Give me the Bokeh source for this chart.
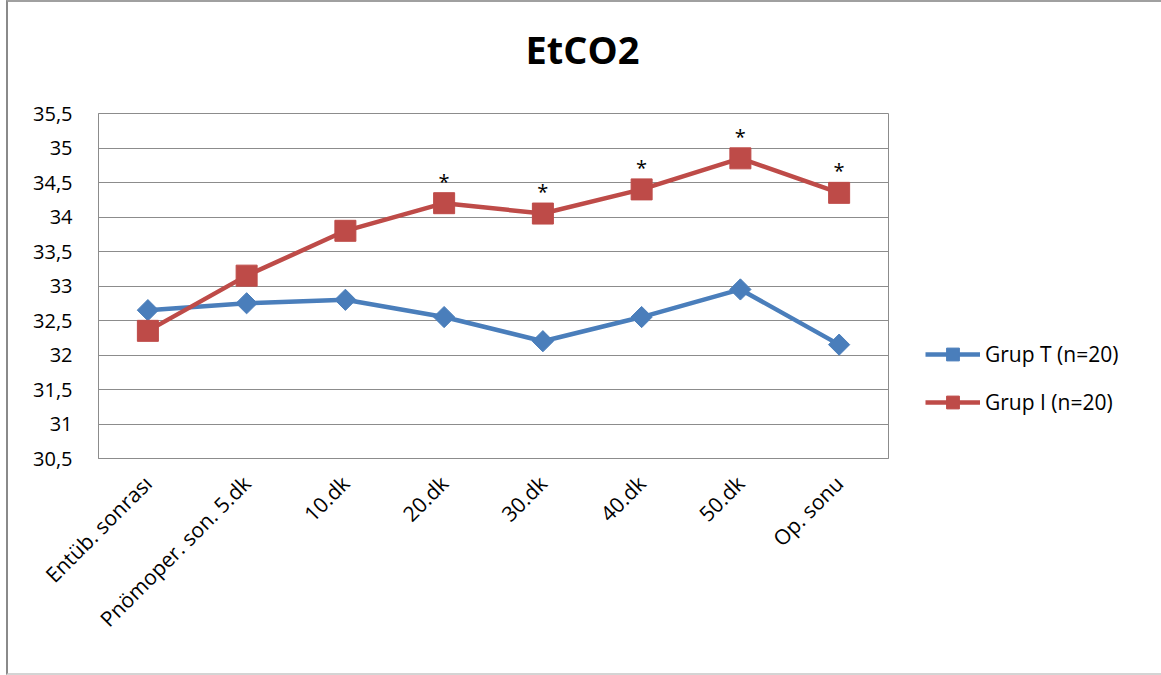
import math

from bokeh.core.properties import value
from bokeh.embed import file_html
from bokeh.models import (CustomJSTickFormatter, FactorRange, FixedTicker,
                          Legend, LegendItem, Range1d, Title)
from bokeh.plotting import figure
from bokeh.resources import INLINE

# Measurement points and EtCO2 means per group
categories = ["Entüb. sonrası", "Pnömoper. son. 5.dk", "10.dk", "20.dk",
              "30.dk", "40.dk", "50.dk", "Op. sonu"]
grup_t = [32.65, 32.75, 32.80, 32.55, 32.20, 32.55, 32.95, 32.15]
grup_i = [32.35, 33.15, 33.80, 34.20, 34.05, 34.40, 34.85, 34.35]
significance = ["", "", "", "*", "*", "*", "*", "*"]

y_ticks = [30.5, 31, 31.5, 32, 32.5, 33, 33.5, 34, 34.5, 35, 35.5]
y_tick_labels = ["30,5", "31", "31,5", "32", "32,5", "33", "33,5", "34",
                 "34,5", "35", "35,5"]

series_names = ["Grup T (n=20)", "Grup I (n=20)"]
chart_title = "EtCO2"

BLUE = "#4a7ebb"
RED = "#be4b48"
GRID = "#8c8c8c"
FONT = "Open Sans"

p = figure(
    x_range=FactorRange(*categories, range_padding=0),
    y_range=Range1d(30.5, 35.5),
    frame_width=790, frame_height=345,
    min_border_left=90, min_border_right=273,
    min_border_top=111, min_border_bottom=215,
    output_backend="svg", toolbar_location=None,
)
p.styles = {
    "margin-left": "6px",
    "border-left": "2px solid #8a8a8a",
    "border-top": "2px solid #a0a0a0",
    "border-bottom": "2px solid #d4d4d4",
}

# A blank spacer next to the frame, with the title stacked above it
p.add_layout(Title(text="\u00a0", text_font_size="10px", text_color="white",
                   standoff=26), "above")
p.add_layout(Title(text=chart_title, text_font=FONT, text_font_size="38px",
                   text_font_style="bold", text_color="black",
                   align="left", offset=427, standoff=0), "above")

# Frame and grid
p.outline_line_color = GRID
p.outline_line_width = 1
p.xgrid.grid_line_color = None
p.ygrid.grid_line_color = GRID
p.ygrid.grid_line_width = 1
p.ygrid.ticker = FixedTicker(ticks=y_ticks)

# Y axis with comma decimals
p.yaxis.ticker = FixedTicker(ticks=y_ticks)
p.yaxis.formatter = CustomJSTickFormatter(
    args=dict(tick_values=y_ticks, tick_labels=y_tick_labels),
    code="const i = tick_values.findIndex(t => Math.abs(t - tick) < 1e-9);"
         "return i >= 0 ? tick_labels[i] : '';",
)
p.yaxis.axis_line_color = GRID
p.yaxis.major_tick_line_color = None
p.yaxis.minor_tick_line_color = None
p.yaxis.major_tick_out = 0
p.yaxis.major_label_standoff = 26
p.yaxis.major_label_text_font = FONT
p.yaxis.major_label_text_font_size = "20px"
p.yaxis.major_label_text_color = "black"

# X axis with slanted category labels
p.xaxis.axis_line_color = GRID
p.xaxis.major_tick_line_color = None
p.xaxis.major_tick_out = 0
p.xaxis.major_label_orientation = math.pi / 4
p.xaxis.major_label_standoff = 21
p.xaxis.major_label_text_font = FONT
p.xaxis.major_label_text_font_size = "21px"
p.xaxis.major_label_text_color = "black"

# Series
line_t = p.line(categories, grup_t, line_color=BLUE, line_width=4.5)
pts_t = p.scatter(categories, grup_t, marker="square", angle=math.pi / 4,
                  size=15, fill_color=BLUE, line_color=BLUE)
line_i = p.line(categories, grup_i, line_color=RED, line_width=4.5)
pts_i = p.scatter(categories, grup_i, marker="square", size=21,
                  fill_color=RED, line_color=RED)

# Significance markers above Grup I
p.text(categories, grup_i, text=significance, y_offset=-22,
       text_align="center", text_baseline="alphabetic",
       text_font=value(FONT), text_font_size="20px", text_color="black")

legend = Legend(
    items=[LegendItem(label=series_names[0], renderers=[line_t, pts_t]),
           LegendItem(label=series_names[1], renderers=[line_i, pts_i])],
    location=(37, 40),
    glyph_width=55, glyph_height=32, label_height=32,
    label_standoff=5, spacing=16, padding=0, margin=0,
    border_line_color=None, background_fill_alpha=0,
    label_text_font=FONT, label_text_font_size="21px",
    label_text_color="black",
)
p.add_layout(legend, "right")

open("out.html", "w").write(file_html(p, INLINE))
